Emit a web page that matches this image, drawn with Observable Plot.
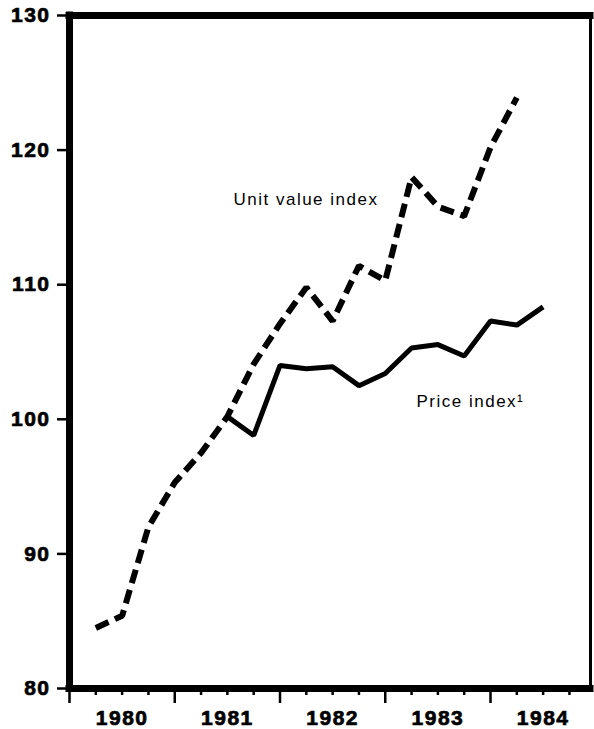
<!DOCTYPE html>
<html><head><meta charset="utf-8">
<script src="https://cdn.jsdelivr.net/npm/d3@7"></script>
<script src="https://cdn.jsdelivr.net/npm/@observablehq/plot@0.6"></script>
<style>html,body{margin:0;padding:0;background:#fff}</style>
</head><body><div id="chart"></div>
<script>
// Quarterly observations (decimal year of quarter tick)
const unitTime = [1980.25, 1980.5, 1980.75, 1981.0, 1981.25, 1981.5, 1981.75, 1982.0, 1982.25,
                  1982.5, 1982.75, 1983.0, 1983.25, 1983.5, 1983.75, 1984.0, 1984.25];
const unitValue = [84.5, 85.4, 92.0, 95.3, 97.5, 100.2, 104.1, 107.1, 109.8,
                   107.3, 111.4, 110.3, 118.0, 115.8, 115.1, 120.2, 123.9];
const priceTime = [1981.5, 1981.75, 1982.0, 1982.25, 1982.5, 1982.75, 1983.0,
                   1983.25, 1983.5, 1983.75, 1984.0, 1984.25, 1984.5];
const priceValue = [100.2, 98.8, 104.0, 103.75, 103.9, 102.5, 103.4,
                    105.3, 105.55, 104.7, 107.3, 107.0, 108.35];
const yTicks = [80, 90, 100, 110, 120, 130];
const yearTicks = [1980, 1981, 1982, 1983, 1984];
const quarterTicks = [1980.25, 1980.5, 1980.75, 1981.25, 1981.5, 1981.75, 1982.25, 1982.5, 1982.75,
                      1983.25, 1983.5, 1983.75, 1984.25, 1984.5, 1984.75];
const yearLabels = ["1980", "1981", "1982", "1983", "1984"];
const seriesNames = ["Unit value index", "Price index\u00B9"];

const unitData = unitTime.map((t, i) => ({t, v: unitValue[i]}));
const priceData = priceTime.map((t, i) => ({t, v: priceValue[i]}));
const labelPositions = yearTicks.map(y => y + 0.5);
const annot = [
  {name: seriesNames[0], t: 1981.558, v: 116.3},
  {name: seriesNames[1], t: 1983.297, v: 101.3}
];

const chart = Plot.plot({
  width: 594, height: 729,
  marginTop: 15, marginBottom: 41, marginLeft: 69, marginRight: 4,
  x: {domain: [1980, 1984.95], axis: null},
  y: {domain: [80, 130], axis: null},
  style: {background: "#fff", fontFamily: "'Liberation Sans', Arial, Helvetica, sans-serif", color: "#000", letterSpacing: "1.5px"},
  marks: [
    Plot.frame({stroke: "#000", strokeWidth: 3}),
    Plot.axisY(yTicks, {anchor: "left", tickSize: 12, tickPadding: 7, strokeWidth: 2.5, fontSize: 21, fontWeight: "bold", label: null}),
    Plot.axisX(quarterTicks, {anchor: "bottom", tickSize: 7, strokeWidth: 2.5, tickFormat: () => "", label: null}),
    Plot.axisX(yearTicks, {anchor: "bottom", tickSize: 15, strokeWidth: 2.5, tickFormat: () => "", label: null}),
    Plot.axisX(labelPositions, {anchor: "bottom", tickSize: 0, tickPadding: 22, fontSize: 21, fontWeight: "bold",
      tickFormat: (d, i) => yearLabels[i], label: null}),
    Plot.ruleX([yearTicks[0]], {stroke: "#000", strokeWidth: 7, strokeLinecap: "square"}),
    Plot.ruleY([yTicks[0], yTicks[yTicks.length - 1]], {stroke: "#000", strokeWidth: 7, strokeLinecap: "square"}),
    Plot.line(unitData, {x: "t", y: "v", stroke: "#000", strokeWidth: 6, strokeDasharray: "14,7", strokeLinecap: "butt", strokeLinejoin: "miter"}),
    Plot.line(priceData, {x: "t", y: "v", stroke: "#000", strokeWidth: 5, strokeLinejoin: "miter", strokeLinecap: "butt"}),
    Plot.text(annot, {x: "t", y: "v", text: "name", textAnchor: "start", fontSize: 17, fill: "#000"})
  ]
});
// heavier tick labels, like the reference's black typeface
d3.select(chart).selectAll('g[aria-label$="tick label"] text')
  .attr("stroke", "#000").attr("stroke-width", 0.7).attr("paint-order", "stroke");
document.getElementById("chart").appendChild(chart);
</script>
</body></html>
